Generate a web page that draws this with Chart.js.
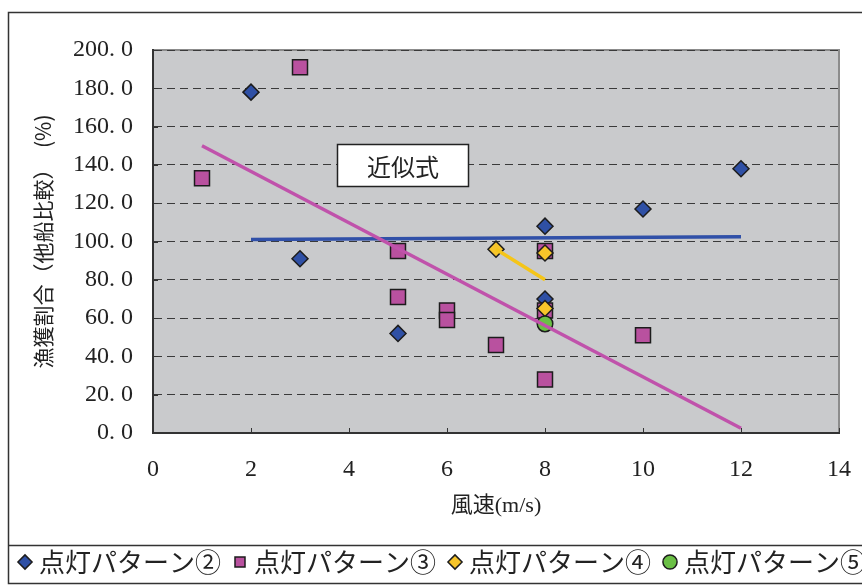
<!DOCTYPE html>
<html lang="ja">
<head>
<meta charset="utf-8">
<title>風速と漁獲割合</title>
<script src="https://cdn.jsdelivr.net/npm/chart.js@4.4.1/dist/chart.umd.min.js"></script>
<style>
  html, body { margin: 0; padding: 0; background: #fff; overflow: hidden; }
  #wrap { width: 862px; height: 585px; overflow: hidden; }
  canvas { display: block; }
</style>
</head>
<body>
<div id="wrap"><canvas id="chart" width="890" height="585"></canvas></div>
<script>
// 点灯パターン別 風速(m/s) と 漁獲割合(%)
const wind2 = [2, 3, 5, 8, 8, 10, 12];
const catch2 = [178, 91, 52, 108, 70, 117, 138];

const wind3 = [1, 3, 5, 5, 6, 6, 7, 8, 8, 8, 10];
const catch3 = [133, 191, 95, 71, 64, 59, 46, 95, 64, 28, 51];

const wind4 = [7, 8, 8];
const catch4 = [96, 94, 65];

const wind5 = [8];
const catch5 = [57];

// 近似直線の端点
const trend2X = [2, 12];
const trend2Y = [101, 102.5];
const trend3X = [1, 12];
const trend3Y = [150, 2.5];
const trend4X = [7, 8];
const trend4Y = [96, 80];

const seriesNames = ['点灯パターン②', '点灯パターン③', '点灯パターン④', '点灯パターン⑤'];
const xTickLabels = ['0', '2', '4', '6', '8', '10', '12', '14'];
const yTickLabels = ['0. 0', '20. 0', '40. 0', '60. 0', '80. 0', '100. 0', '120. 0', '140. 0', '160. 0', '180. 0', '200. 0'];

const serif = '"Liberation Serif", "Noto Sans CJK JP", serif';
const cjk = '"Noto Sans CJK JP", "Liberation Serif", sans-serif';

function toPoints(xs, ys) {
    return xs.map((x, i) => ({ x: x, y: ys[i] }));
}

// 枠線・プロット背景・目盛り・「近似式」ボックス
const decor = {
    id: 'decor',
    beforeDraw(chart) {
        const c = chart.ctx;
        const a = chart.chartArea;
        c.save();
        c.fillStyle = '#c9cacc';
        c.fillRect(a.left, a.top, a.right - a.left, a.bottom - a.top);
        c.strokeStyle = '#8c8c8c';
        c.lineWidth = 2;
        c.beginPath();
        c.moveTo(a.left, a.top);
        c.lineTo(a.right, a.top);
        c.lineTo(a.right, a.bottom);
        c.stroke();

        // 外枠と凡例の区切り線
        c.strokeStyle = '#333';
        c.lineWidth = 1.5;
        c.strokeRect(8.5, 12.5, 1000, 571);
        c.beginPath();
        c.moveTo(8.5, 545.5);
        c.lineTo(1000, 545.5);
        c.stroke();
        c.restore();
    },
    beforeDatasetsDraw(chart) {
        const c = chart.ctx;
        const a = chart.chartArea;
        const xs = chart.scales.x;
        const ys = chart.scales.y;
        c.save();
        c.strokeStyle = '#333';
        c.lineWidth = 1;
        c.beginPath();
        ys.ticks.forEach(t => {
            const py = Math.round(ys.getPixelForValue(t.value)) + 0.5;
            c.moveTo(a.left, py);
            c.lineTo(a.left + 5, py);
        });
        xs.ticks.forEach(t => {
            const px = Math.round(xs.getPixelForValue(t.value)) + 0.5;
            c.moveTo(px, a.bottom);
            c.lineTo(px, a.bottom - 5);
        });
        c.stroke();
        c.restore();
    },
    afterDatasetsDraw(chart) {
        const c = chart.ctx;
        const xs = chart.scales.x;
        const ys = chart.scales.y;
        const l = Math.round(xs.getPixelForValue(3.75)) + 0.5;
        const r = Math.round(xs.getPixelForValue(6.42)) + 0.5;
        const t = Math.round(ys.getPixelForValue(151)) + 0.5;
        const b = Math.round(ys.getPixelForValue(129)) + 0.5;
        c.save();
        c.fillStyle = '#fff';
        c.fillRect(l, t, r - l, b - t);
        c.strokeStyle = '#222';
        c.lineWidth = 1.5;
        c.strokeRect(l, t, r - l, b - t);
        c.fillStyle = '#222';
        c.font = '24px ' + cjk;
        c.textAlign = 'center';
        c.textBaseline = 'middle';
        c.fillText('近似式', (l + r) / 2, (t + b) / 2 + 1);
        c.restore();
    }
};

const ctx = document.getElementById('chart').getContext('2d');

new Chart(ctx, {
    type: 'scatter',
    data: {
        datasets: [
            {
                label: seriesNames[0],
                data: toPoints(wind2, catch2),
                pointStyle: 'rectRot',
                pointRadius: 8,
                backgroundColor: '#2f50a5',
                borderColor: '#1c1c1c',
                borderWidth: 1.5,
                order: 7
            },
            {
                label: seriesNames[1],
                data: toPoints(wind3, catch3),
                pointStyle: 'rect',
                pointRadius: 10.6,
                backgroundColor: '#b9519f',
                borderColor: '#1c1c1c',
                borderWidth: 1.5,
                order: 6
            },
            {
                label: seriesNames[2],
                data: toPoints(wind4, catch4),
                pointStyle: 'rectRot',
                pointRadius: 8,
                backgroundColor: '#f7c52a',
                borderColor: '#1c1c1c',
                borderWidth: 1.5,
                order: 5
            },
            {
                label: seriesNames[3],
                data: toPoints(wind5, catch5),
                pointStyle: 'circle',
                pointRadius: 7.8,
                backgroundColor: '#6abf45',
                borderColor: '#1c1c1c',
                borderWidth: 1.5,
                order: 4
            },
            {
                label: 'trend2',
                data: toPoints(trend2X, trend2Y),
                showLine: true,
                pointRadius: 0,
                borderColor: '#3050a8',
                borderWidth: 3.5,
                order: 2
            },
            {
                label: 'trend3',
                data: toPoints(trend3X, trend3Y),
                showLine: true,
                pointRadius: 0,
                borderColor: '#c052ab',
                borderWidth: 3.5,
                order: 1
            },
            {
                label: 'trend4',
                data: toPoints(trend4X, trend4Y),
                showLine: true,
                pointRadius: 0,
                borderColor: '#f5c518',
                borderWidth: 3.5,
                order: 0
            }
        ]
    },
    options: {
        responsive: false,
        animation: false,
        devicePixelRatio: 1,
        layout: { padding: { left: 0, right: 0, top: 50, bottom: 0 } },
        plugins: {
            tooltip: { enabled: false },
            legend: {
                position: 'bottom',
                labels: {
                    usePointStyle: true,
                    boxWidth: 2,
                    boxHeight: 10,
                    padding: 18,
                    color: '#222',
                    font: { family: cjk, size: 26 },
                    filter: item => item.datasetIndex < 4,
                    sort: (a, b) => a.datasetIndex - b.datasetIndex
                }
            }
        },
        scales: {
            x: {
                type: 'linear',
                min: 0,
                max: 14,
                grid: { display: false, drawTicks: false },
                border: { display: true, color: '#333', width: 2 },
                ticks: {
                    stepSize: 2,
                    padding: 22,
                    color: '#222',
                    font: { family: serif, size: 24 },
                    callback: (v, i) => xTickLabels[i]
                },
                title: {
                    display: true,
                    text: '風速(m/s)',
                    color: '#222',
                    font: { family: serif, size: 22 },
                    padding: { top: 0, bottom: 12 }
                },
                afterFit: s => { s.height = 98; }
            },
            y: {
                type: 'linear',
                min: 0,
                max: 200,
                grid: {
                    color: '#3a3a3a',
                    lineWidth: 1,
                    drawTicks: false
                },
                border: { display: true, color: '#333', width: 2, dash: [8, 5] },
                ticks: {
                    stepSize: 20,
                    padding: 20,
                    color: '#222',
                    font: { family: serif, size: 24 },
                    callback: (v, i) => yTickLabels[i]
                },
                title: {
                    display: true,
                    text: '漁獲割合（他船比較）　(%)',
                    color: '#222',
                    font: { family: cjk, size: 21 },
                    padding: { top: 30, bottom: 0 }
                },
                afterFit: s => { s.width = 153; }
            },
            yRight: {
                type: 'linear',
                position: 'right',
                display: true,
                grid: { display: false, drawTicks: false },
                border: { display: false },
                ticks: { display: false },
                afterFit: s => { s.width = 51; }
            }
        }
    },
    plugins: [decor]
});
</script>
</body>
</html>
